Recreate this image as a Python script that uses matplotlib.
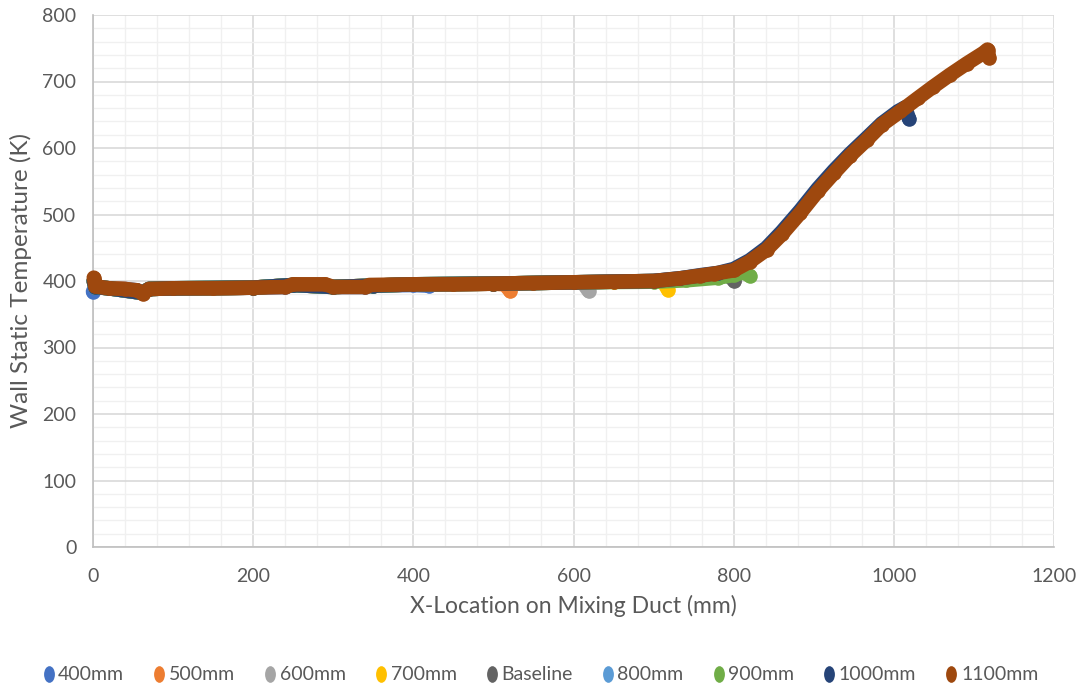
import matplotlib
matplotlib.use("Agg")
import matplotlib.pyplot as plt
import matplotlib.transforms as mtransforms
from matplotlib.lines import Line2D
from matplotlib.path import Path
from matplotlib.ticker import MultipleLocator

plt.rcParams['font.family'] = ['Lato', 'DejaVu Sans']

# wall static temperature along the mixing duct, one series per duct length
x_400 = [0, 3, 20, 40, 55, 62, 70, 100, 150, 200, 240, 250, 290, 300, 340, 345, 400, 420]
t_400 = [384, 391, 389, 388, 386, 382, 388, 389, 389, 390, 391, 394, 394, 391, 391, 393, 394, 393]

x_500 = [1, 3, 20, 40, 62, 70, 100, 150, 200, 250, 300, 350, 400, 450, 500, 514, 521]
t_500 = [400, 391, 389, 388, 382, 388, 389, 389, 390, 394, 391, 393, 395, 395, 396, 395, 385]

x_600 = [1, 3, 20, 62, 70, 100, 200, 250, 300, 350, 400, 500, 550, 600, 612, 619]
t_600 = [400, 391, 389, 382, 388, 389, 390, 394, 391, 393, 395, 396, 397, 398, 397, 385]

x_700 = [1, 3, 20, 62, 70, 100, 200, 250, 300, 350, 400, 500, 600, 650, 700, 712, 718]
t_700 = [400, 391, 389, 382, 388, 389, 390, 394, 391, 393, 395, 396, 398, 399, 400, 399, 387]

x_base = [1, 3, 20, 62, 70, 100, 200, 250, 300, 350, 400, 500, 600, 700, 733, 760, 780, 792, 801]
t_base = [400, 391, 389, 382, 388, 389, 390, 394, 391, 393, 395, 396, 398, 400, 403, 406, 409, 410, 400]

x_800 = [1, 3, 20, 62, 70, 100, 200, 250, 300, 350, 400, 500, 600, 700, 733, 760, 790, 796]
t_800 = [400, 391, 389, 382, 388, 389, 390, 394, 391, 393, 395, 396, 398, 400, 404, 408, 413, 410]

x_900 = [1, 3, 20, 62, 70, 100, 200, 250, 300, 350, 400, 500, 600, 700, 740, 780, 800, 812, 820]
t_900 = [400, 391, 389, 382, 388, 389, 390, 394, 391, 393, 395, 396, 398, 399, 401, 405, 409, 413, 408]

x_1000 = [1, 3, 20, 62, 70, 100, 200, 250, 300, 350, 400, 500, 600, 700, 733, 760, 780, 800,
          820, 841, 860, 883, 905, 925, 945, 966, 985, 1005, 1014, 1019]
t_1000 = [400, 391, 389, 382, 388, 389, 390, 394, 391, 393, 395, 396, 398, 400, 404, 409, 412, 418,
          431, 450, 474, 506, 539, 566, 591, 615, 637, 655, 661, 644]

x_1100 = [1, 3, 20, 40, 55, 62, 70, 100, 150, 200, 240, 250, 290, 300, 340, 345, 400, 450, 500,
          550, 600, 650, 700, 733, 758, 775, 800, 820, 841, 860, 883, 905, 925, 945, 966, 985,
          1008, 1030, 1049, 1070, 1091, 1112, 1117, 1119]
t_1100 = [405, 392, 389, 388, 386, 381, 388, 389, 389, 390, 391, 395, 395, 391, 391, 394, 395, 395, 396,
          397, 398, 399, 400, 404, 408, 411, 416, 429, 447, 470, 502, 535, 562, 588, 612, 635,
          655, 675, 692, 710, 727, 743, 748, 736]

labels = ['400mm', '500mm', '600mm', '700mm', 'Baseline', '800mm', '900mm', '1000mm', '1100mm']
colors = ['#4472C4', '#ED7D31', '#A5A5A5', '#FFC000', '#636363', '#5B9BD5', '#70AD47', '#264478', '#9E480E']
series = [(x_400, t_400), (x_500, t_500), (x_600, t_600), (x_700, t_700), (x_base, t_base),
          (x_800, t_800), (x_900, t_900), (x_1000, t_1000), (x_1100, t_1100)]

fig = plt.figure(figsize=(10.82, 6.89), dpi=100)
ax = fig.add_axes([93 / 1082, 1 - 547 / 689, 961 / 1082, 532 / 689])

for (xs, ts), c in zip(series, colors):
    ax.plot(xs, ts, color=c, lw=10.5, marker='o', ms=10.5, mew=0,
            solid_capstyle='round', solid_joinstyle='round', clip_on=False, zorder=3)

ax.set_xlim(0, 1200)
ax.set_ylim(0, 800)
ax.xaxis.set_major_locator(MultipleLocator(200))
ax.xaxis.set_minor_locator(MultipleLocator(40))
ax.yaxis.set_major_locator(MultipleLocator(100))
ax.yaxis.set_minor_locator(MultipleLocator(20))
ax.grid(True, which='major', color='#D9D9D9', lw=1.2, zorder=0)
ax.grid(True, which='minor', color='#F0F0F0', lw=1.0, zorder=0)
ax.set_axisbelow(True)

for s in ['top', 'right']:
    ax.spines[s].set_visible(False)
for s in ['left', 'bottom']:
    ax.spines[s].set_color('#BFBFBF')
    ax.spines[s].set_linewidth(1.2)

ax.tick_params(which='both', length=0)
ax.tick_params(axis='x', labelsize=14, labelcolor='#595959', pad=15)
ax.tick_params(axis='y', labelsize=14, labelcolor='#595959', pad=12)

ax.set_xlabel('X-Location on Mixing Duct (mm)', fontsize=16.5, color='#595959', labelpad=7)
ax.set_ylabel('Wall Static Temperature (K)', fontsize=17.5, color='#595959', labelpad=7)

# legend markers are drawn as narrow ellipses
ellipse = Path.unit_circle().transformed(mtransforms.Affine2D().scale(0.65, 1.0))
handles = [Line2D([], [], ls='none', marker=ellipse, ms=12, mew=0, color=c) for c in colors]
fig.legend(handles, labels, loc='center', bbox_to_anchor=(0.5, 1 - 675 / 689), ncol=9,
           frameon=False, fontsize=14, labelcolor='#595959', handlelength=0.5,
           handletextpad=0.25, columnspacing=1.55)

fig.savefig('out.png', dpi=100)
